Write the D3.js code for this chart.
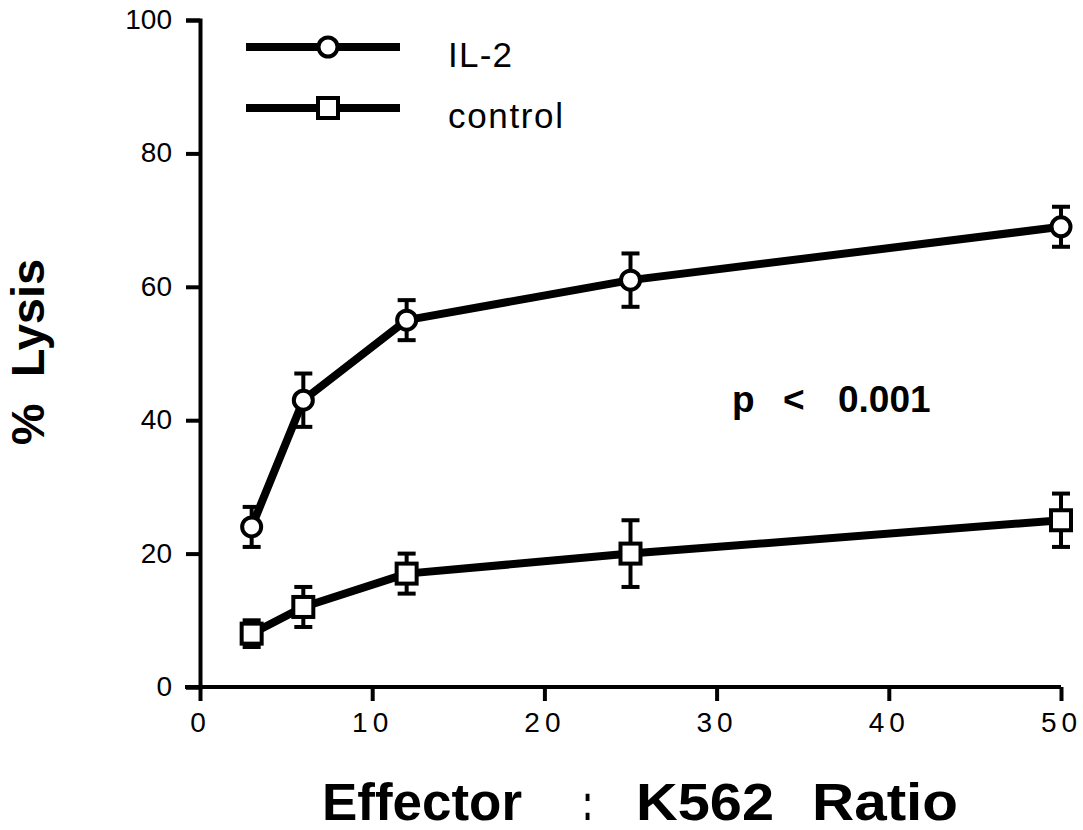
<!DOCTYPE html>
<html>
<head>
<meta charset="utf-8">
<script src="https://cdn.jsdelivr.net/npm/d3@7"></script>
<style>
  body { margin: 0; background: #fff; }
  svg { font-family: "Liberation Sans", Arial, sans-serif; }
</style>
</head>
<body>
<svg id="chart" width="1083" height="830"></svg>
<script>
// ratios on the x axis
const ratios = [3, 6, 12, 25, 50];
// % lysis, mean and error bar half-width
const il2Mean = [24, 43, 55, 61, 69];
const il2Err = [3, 4, 3, 4, 3];
const controlMean = [8, 12, 17, 20, 25];
const controlErr = [2, 3, 3, 5, 4];
const xTicks = [0, 10, 20, 30, 40, 50];
const yTicks = [0, 20, 40, 60, 80, 100];

const svg = d3.select("#chart");
const x = d3.scaleLinear().domain([0, 50]).range([200, 1061]);
const y = d3.scaleLinear().domain([0, 100]).range([687, 20]);

// axes
const gx = svg.append("g").attr("transform", "translate(0,687)")
    .call(d3.axisBottom(x).tickValues(xTicks).tickSize(14).tickPadding(10));
const gy = svg.append("g").attr("transform", "translate(200,0)")
    .call(d3.axisLeft(y).tickValues(yTicks).tickSize(14).tickPadding(14));
[gx, gy].forEach(g => {
    g.attr("font-size", 28).attr("font-family", "Liberation Sans, Arial, sans-serif");
    g.select(".domain").attr("stroke-width", 4);
    g.selectAll(".tick line").attr("stroke-width", 4);
    g.selectAll("text").attr("fill", "#000");
});
gx.select(".domain").attr("d", "M185,0H1061");
gx.selectAll("text").attr("letter-spacing", 5).attr("dy", "0.75em");
gy.selectAll("text").attr("dy", "0.3em");

const line = d3.line().x(d => x(d[0])).y(d => y(d[1]));

function drawSeries(means, errs, shape) {
    const pts = ratios.map((r, i) => [r, means[i], errs[i]]);
    svg.append("path").datum(pts).attr("d", line)
        .attr("fill", "none").attr("stroke", "#000").attr("stroke-width", 8)
        .attr("stroke-linejoin", "round");
    const eb = svg.append("g").attr("stroke", "#000").attr("stroke-width", 4);
    pts.forEach(p => {
        eb.append("line").attr("x1", x(p[0])).attr("x2", x(p[0]))
            .attr("y1", y(p[1] - p[2])).attr("y2", y(p[1] + p[2]));
        [p[1] - p[2], p[1] + p[2]].forEach(v => {
            eb.append("line").attr("x1", x(p[0]) - 9).attr("x2", x(p[0]) + 9)
                .attr("y1", y(v)).attr("y2", y(v));
        });
    });
    pts.forEach(p => drawMarker(x(p[0]), y(p[1]), shape));
}

function drawMarker(cx, cy, shape) {
    if (shape === "circle") {
        svg.append("circle").attr("cx", cx).attr("cy", cy).attr("r", 9.5)
            .attr("fill", "#fff").attr("stroke", "#000").attr("stroke-width", 4);
    } else {
        svg.append("rect").attr("x", cx - 10).attr("y", cy - 10)
            .attr("width", 20).attr("height", 20)
            .attr("fill", "#fff").attr("stroke", "#000").attr("stroke-width", 4);
    }
}

drawSeries(il2Mean, il2Err, "circle");
drawSeries(controlMean, controlErr, "square");

// legend
const legend = [["IL-2", "circle", 47], ["control", "square", 108]];
legend.forEach(([name, shape, ly]) => {
    svg.append("line").attr("x1", 246).attr("x2", 400).attr("y1", ly).attr("y2", ly)
        .attr("stroke", "#000").attr("stroke-width", 8);
    drawMarker(328, ly, shape);
    svg.append("text").attr("x", 448).attr("y", ly + 20).attr("font-size", 35)
        .attr("textLength", name === "IL-2" ? 64 : 115)
        .text(name);
});

// annotation
const pText = svg.append("text").attr("y", 412).attr("font-size", 37)
    .attr("font-weight", "bold");
[["p", 732], ["<", 783], ["0.001", 838]].forEach(([t, px]) =>
    pText.append("tspan").attr("x", px).text(t));

// axis titles (condensed bold face, so each word is fitted)
[["Effector", 322, 200], [":", 583, 9], ["K562", 636, 138], ["Ratio", 812, 146]]
    .forEach(([t, px, w]) => {
        svg.append("text").attr("x", px).attr("y", 820).attr("font-size", 51)
            .attr("font-weight", "bold").attr("textLength", w)
            .attr("lengthAdjust", "spacingAndGlyphs").text(t);
    });

svg.append("text").attr("transform", "translate(44,352) rotate(-90)")
    .attr("text-anchor", "middle").attr("font-size", 47).attr("font-weight", "bold")
    .attr("xml:space", "preserve").text("%  Lysis");
</script>
</body>
</html>
